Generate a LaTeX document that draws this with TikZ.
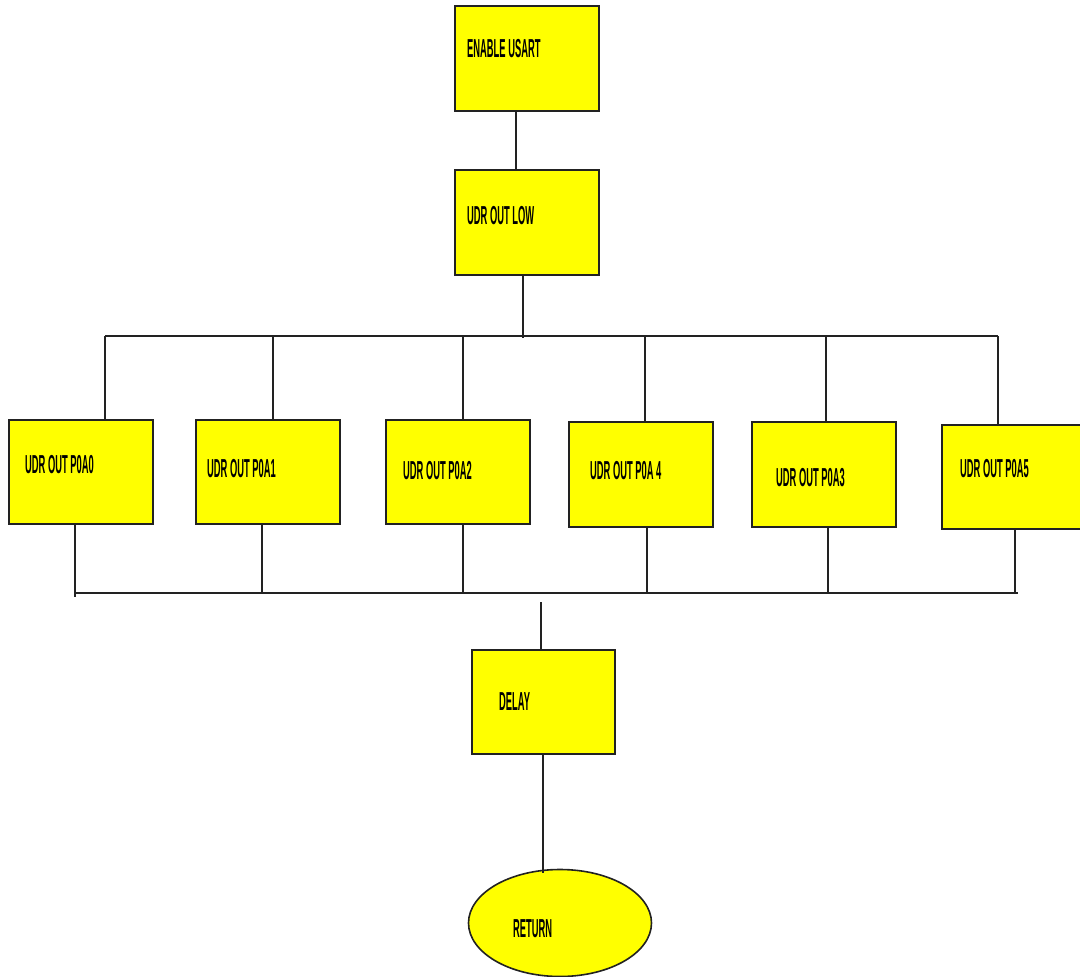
\documentclass[tikz,border=0pt]{standalone}
\usepackage{fontspec}
\newfontfamily\condfont[FakeStretch=0.36]{Liberation Sans}
\usetikzlibrary{shapes.geometric}
\definecolor{boxyellow}{HTML}{FFFF00}
\definecolor{linec}{HTML}{222222}
\tikzset{
  box/.style={draw=linec, line width=1.8pt, fill=boxyellow, rectangle, minimum width=144pt, minimum height=104pt, inner sep=0pt},
  endbox/.style={draw=linec, line width=1.6pt, fill=boxyellow, ellipse, minimum width=183pt, minimum height=107pt, inner sep=0pt},
  lbl/.style={anchor=west, inner sep=0pt, font=\condfont\bfseries\fontsize{26}{26}\selectfont, text=black},
  wire/.style={draw=linec, line width=1.5pt}
}
\begin{document}
\begin{tikzpicture}[x=1pt, y=-1pt]
\useasboundingbox (0,0) rectangle (1080,977);
\fill[white] (0,0) rectangle (1080,977);
% boxes
\node[box, minimum height=105pt] (en) at (527,58.5) {};
\node[box, minimum height=105pt] (low) at (527,222.5) {};
\node[box] (p0) at (81,472) {};
\node[box] (p1) at (268,472) {};
\node[box] (p2) at (458,472) {};
\node[box, minimum height=105pt] (p4) at (641,474.5) {};
\node[box, minimum height=105pt] (p3) at (824,474.5) {};
\node[box] (p5) at (1014,477) {};
\node[box, minimum width=143pt] (delay) at (543.5,702) {};
\node[endbox] (ret) at (560,923) {};
% labels
\node[lbl] (ten) at (467,49) {ENABLE USART};
\node[lbl] (tlow) at (467,215.5) {UDR OUT LOW};
\node[lbl] (tp0) at (25,465) {UDR OUT P0A0};
\node[lbl] (tp1) at (207,469) {UDR OUT P0A1};
\node[lbl] (tp2) at (403,471) {UDR OUT P0A2};
\node[lbl] (tp4) at (590,471) {UDR OUT P0A 4};
\node[lbl] (tp3) at (776,478) {UDR OUT P0A3};
\node[lbl] (tp5) at (960,469) {UDR OUT P0A5};
\node[lbl] (tdelay) at (499,701.5) {DELAY};
\node[lbl] (tret) at (513,929) {RETURN};
% bus coordinates
\coordinate (busT) at (105,336);
\coordinate (busTR) at (998,336);
\coordinate (busB) at (76,593);
\coordinate (busBR) at (1018,593);
\coordinate (dtop) at (541,602);
% wires
\draw[wire] ([xshift=-11pt]en.south) -- ([xshift=-11pt]low.north);
\draw[wire] ([xshift=-4pt]low.south) -- ([xshift=-4pt,yshift=-2pt]low.south |- busT);
\draw[wire] (busT) -- (busTR);
\draw[wire] ([xshift=24pt]p0.north) -- ([xshift=24pt]p0.north |- busT);
\draw[wire] ([xshift=5pt]p1.north) -- ([xshift=5pt]p1.north |- busT);
\draw[wire] ([xshift=5pt]p2.north) -- ([xshift=5pt]p2.north |- busT);
\draw[wire] ([xshift=4pt]p4.north) -- ([xshift=4pt]p4.north |- busT);
\draw[wire] ([xshift=2pt]p3.north) -- ([xshift=2pt]p3.north |- busT);
\draw[wire] ([xshift=-16pt]p5.north) -- ([xshift=-16pt]p5.north |- busT);
\draw[wire] ([xshift=-6pt]p0.south) -- ([xshift=-6pt,yshift=-4pt]p0.south |- busB);
\draw[wire] ([xshift=-6pt]p1.south) -- ([xshift=-6pt]p1.south |- busB);
\draw[wire] ([xshift=5pt]p2.south) -- ([xshift=5pt]p2.south |- busB);
\draw[wire] ([xshift=6pt]p4.south) -- ([xshift=6pt]p4.south |- busB);
\draw[wire] ([xshift=4pt]p3.south) -- ([xshift=4pt]p3.south |- busB);
\draw[wire] ([xshift=1pt]p5.south) -- ([xshift=1pt]p5.south |- busB);
\draw[wire] (busB) -- (busBR);
\draw[wire] (dtop) -- (dtop |- delay.north);
\draw[wire] ([xshift=-0.5pt]delay.south) -- ([xshift=-0.5pt,yshift=-4pt]delay.south |- ret.north);
\end{tikzpicture}
\end{document}
